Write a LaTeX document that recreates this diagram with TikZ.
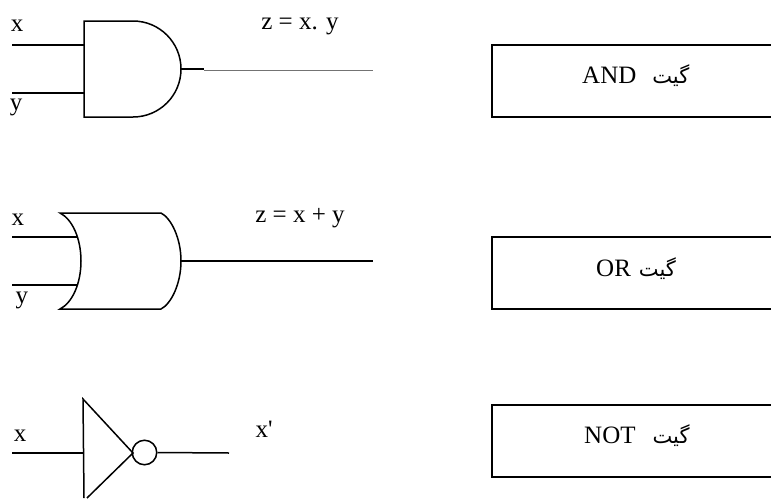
\documentclass[tikz,border=0pt]{standalone}
\usepackage{fontspec}
\setmainfont{Liberation Serif}
\newfontfamily\arabicfont[Script=Arabic]{DejaVu Sans}
\TeXXeTstate=1
\newcommand{\gitword}{{\arabicfont\fontsize{21}{24}\selectfont\beginR گیت\endR}}
\tikzset{
  wire/.style={line width=1.5pt,line cap=butt},
  shapeline/.style={line width=1.5pt,line join=miter},
  thinwire/.style={line width=0.7pt,draw=black!55},
  lab/.style={inner sep=0pt,anchor=base,font=\fontsize{25}{28}\selectfont},
  boxlab/.style={inner sep=0pt,anchor=base west,font=\fontsize{25}{28}\selectfont}
}
\begin{document}
\begin{tikzpicture}[x=1pt,y=-1pt]
\useasboundingbox (0,0) rectangle (771,498);
% AND gate
\coordinate (ax1) at (12,45); \coordinate (ax2) at (84,45);
\coordinate (ay1) at (12,93); \coordinate (ay2) at (84,93);
\coordinate (aout) at (181,69); \coordinate (aout2) at (204,69);
\coordinate (aoutA) at (204,70); \coordinate (aoutB) at (373,70);
\draw[shapeline] (84,21) -- (133,21) arc[start angle=-90,end angle=90,x radius=48,y radius=48] -- (84,117) -- cycle;
\draw[wire] (ax1) -- (ax2);
\draw[wire] (ay1) -- (ay2);
\draw[wire] (aout) -- (aout2);
\draw[thinwire] (aoutA) -- (aoutB);
\node[lab] (ax) at (17,31) {x};
\node[lab] (ay) at (16,110) {y};
\node[lab] (az) at (300,29) {z = x. y};
% OR gate
\coordinate (ox1) at (12,237); \coordinate (ox2) at (78,237);
\coordinate (oy1) at (12,285); \coordinate (oy2) at (78,285);
\coordinate (oout1) at (181,261); \coordinate (oout2) at (373,261);
\draw[shapeline] (60,213) -- (161,213)
  .. controls (171,218) and (181,238) .. (181,261)
  .. controls (181,284) and (171,304) .. (161,309)
  -- (60,309)
  .. controls (72,303) and (81,284) .. (81,261)
  .. controls (81,238) and (72,219) .. (60,213) -- cycle;
\draw[wire] (ox1) -- (ox2);
\draw[wire] (oy1) -- (oy2);
\draw[wire] (oout1) -- (oout2);
\node[lab] (ox) at (18,225) {x};
\node[lab] (oy) at (22,303) {y};
\node[lab] (oz) at (300,222) {z = x + y};
% NOT gate
\coordinate (nx1) at (12,453); \coordinate (nx2) at (83,453);
\coordinate (nout) at (229,453);
\draw[shapeline] (84,498) -- (83,399) -- (133,453) -- (87,498);
\node[draw,circle,line width=1.5pt,minimum size=24.5pt,inner sep=0pt] (nb) at (144.5,452.5) {};
\draw[wire] (nx1) -- (nx2);
\draw[wire] (nb.east) -- (nout);
\node[lab] (nxl) at (20,441) {x};
\node[lab] (nxp) at (264,437) {x\textquotesingle};
% Label boxes
\foreach \t/\b/\n in {45/117/a,237/309/o,405/477/n}{
  \draw[line width=1.5pt] (772,\t) -- (492,\t) -- (492,\b) -- (772,\b);
}
\node[boxlab] (la) at (582,83) {AND\hspace{16pt}\gitword};
\node[boxlab] (lo) at (596,276) {OR\hspace{8pt}\gitword};
\node[boxlab] (ln) at (584,443) {NOT\hspace{17pt}\gitword};
\end{tikzpicture}
\end{document}
